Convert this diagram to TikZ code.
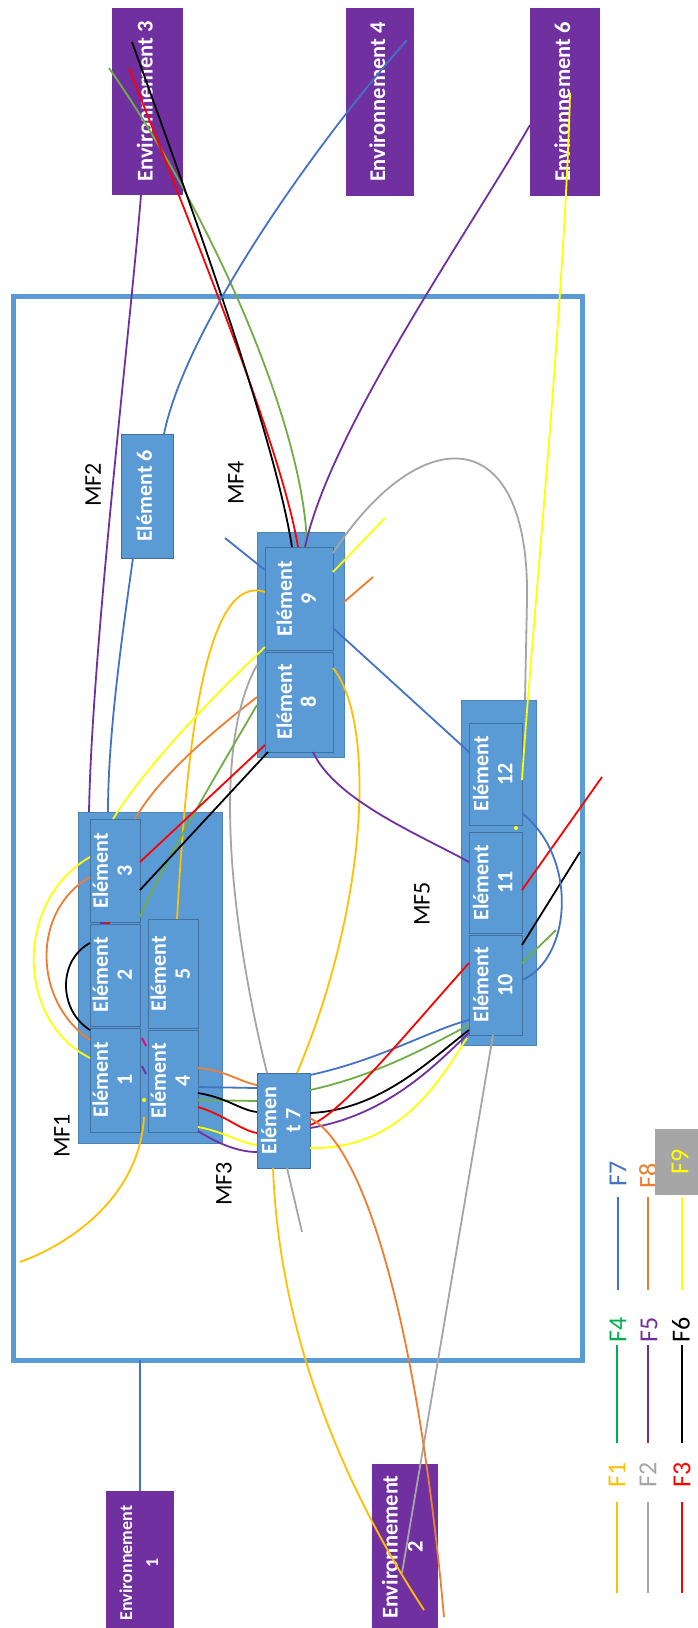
\documentclass[tikz,border=0pt]{standalone}
\usepackage{fontspec}
\setmainfont{Carlito}
\usepackage{graphicx}
\usetikzlibrary{calc}
\definecolor{boxblue}{HTML}{5B9BD5}
\definecolor{boxedge}{HTML}{41719C}
\definecolor{envpurple}{HTML}{7030A0}
\definecolor{cF1}{HTML}{FFC000}
\definecolor{cF2}{HTML}{A5A5A5}
\definecolor{cF3}{HTML}{FF0000}
\definecolor{cF4}{HTML}{70AD47}
\definecolor{cF4t}{HTML}{00B050}
\definecolor{cF5}{HTML}{7030A0}
\definecolor{cF6}{HTML}{000000}
\definecolor{cF7}{HTML}{4472C4}
\definecolor{cF8}{HTML}{ED7D31}
\definecolor{cF9}{HTML}{FFFF00}
\definecolor{legbox}{HTML}{A6A6A6}
\newcommand\rottxt[1]{\rotatebox{90}{\begin{tabular}{@{}c@{}}#1\end{tabular}}}
\begin{document}
\begin{tikzpicture}[x=1pt,y=-1pt,
  every node/.style={inner sep=0pt,outer sep=0pt},
  envbox/.style={fill=envpurple,text=white,font=\bfseries\fontsize{22.5}{25}\selectfont},
  outerbox/.style={fill=boxblue,draw=boxblue!85!black,line width=0.8pt},
  elbox/.style={fill=boxblue,draw=boxedge,line width=0.8pt,text=white,font=\bfseries\fontsize{22}{24}\selectfont},
  mflabel/.style={rotate=90,font=\fontsize{24}{26}\selectfont},
  legtext/.style={rotate=90,font=\fontsize{26}{28}\selectfont},
  conn/.style={line width=1.8pt},
  legline/.style={line width=2.2pt}]
\useasboundingbox (0,0) rectangle (697,1628);
\fill[white] (0,0) rectangle (697,1628);

% system boundary
\node[draw=boxblue,line width=5pt,minimum width=569pt,minimum height=1064pt] (sys) at (297.5,828) {};

% environments
\node[envbox,minimum width=71pt,minimum height=187pt] (env3) at (147.5,101.5) {\rottxt{Environnement 3}};
\node[envbox,minimum width=68pt,minimum height=188pt] (env4) at (380,102) {\rottxt{Environnement 4}};
\node[envbox,minimum width=70pt,minimum height=188pt] (env6) at (565,102) {\rottxt{Environnement 6}};
\node[envbox,minimum width=68pt,minimum height=144pt,font=\bfseries\fontsize{18}{26}\selectfont] (env1) at (140,1563) {\rottxt{Environnement\\1}};
\node[envbox,minimum width=66pt,minimum height=166pt] (env2) at (405,1547) {\rottxt{Environnement\\2}};

% MF groups
\node[outerbox,minimum width=144pt,minimum height=331pt] (mf1) at (150,977.5) {};
\node[outerbox,minimum width=87pt,minimum height=225pt] (mf4) at (300.5,644.5) {};
\node[outerbox,minimum width=75pt,minimum height=345pt] (mf5) at (498.5,872.5) {};

% elements
\node[elbox,minimum width=50pt,minimum height=103pt] (e3) at (115,870.5) {\rottxt{Elément\\3}};
\node[elbox,minimum width=50pt,minimum height=102pt] (e2) at (115,975) {\rottxt{Elément\\2}};
\node[elbox,minimum width=50pt,minimum height=104pt] (e1) at (115,1080) {\rottxt{Elément\\1}};
\node[elbox,minimum width=50pt,minimum height=109pt] (e5) at (173,973.5) {\rottxt{Elément\\5}};
\node[elbox,minimum width=50pt,minimum height=102pt] (e4) at (173,1081) {\rottxt{Elément\\4}};
\node[elbox,minimum width=52pt,minimum height=124pt] (e6) at (147,496) {\rottxt{Elément 6}};
\node[elbox,minimum width=68pt,minimum height=103pt] (e9) at (299,598.5) {\rottxt{Elément\\9}};
\node[elbox,minimum width=68pt,minimum height=100pt] (e8) at (299,702) {\rottxt{Elément\\8}};
\node[elbox,minimum width=53pt,minimum height=95pt] (e7) at (283.5,1120.5) {\rottxt{Elémen\\t 7}};
\node[elbox,minimum width=53pt,minimum height=102pt] (e12) at (495.5,774) {\rottxt{Elément\\12}};
\node[elbox,minimum width=53pt,minimum height=101pt] (e11) at (495.5,882.5) {\rottxt{Elément\\11}};
\node[elbox,minimum width=53pt,minimum height=100pt] (e10) at (495.5,985) {\rottxt{Elément\\10}};

% labels
\node[mflabel] (lmf1) at (62,1136) {MF1};
\node[mflabel] (lmf2) at (93,485) {MF2};
\node[mflabel] (lmf3) at (224,1184) {MF3};
\node[mflabel] (lmf4) at (236,483) {MF4};
\node[mflabel] (lmf5) at (422,904) {MF5};

% connectors from Environnement 3
\draw[conn,cF5] ($(env3.north west)+(29,187)$) .. controls (130,330) and (92,650) .. ($(mf1.north west)+(11,0)$);
\draw[conn,cF4] ($(env3.north west)+(-3,60)$) .. controls (215,220) and (305,430) .. ($(e9.north west)+(42,0)$);
\draw[conn,cF3] ($(env3.north west)+(17,60)$) .. controls (200,250) and (282,450) .. ($(e9.north west)+(33,0)$);
\draw[conn,cF6] ($(env3.north west)+(20,34)$) .. controls (200,230) and (275,440) .. ($(e9.north west)+(27,0)$);
% Element 9 / 6 to the top
\draw[conn,cF5] ($(e9.north west)+(40,0)$) .. controls (330,430) and (470,230) .. ($(env6.north west)+(0,117)$);
\draw[conn,cF7] ($(e6.north west)+(43,0)$) .. controls (185,330) and (310,150) .. ($(env4.north west)+(61,32)$);
\draw[conn,cF7] ($(e6.north west)+(12,124)$) .. controls (120,650) and (108,740) .. ($(mf1.north west)+(30,0)$);
\draw[conn,cF9] ($(env6.north west)+(40,85)$) .. controls (565,300) and (530,650) .. ($(e12.north west)+(53,57)$);
\draw[conn,cF2] ($(e9.north west)+(68,6)$) .. controls (420,420) and (530,420) .. (527,600) -- ($(mf5.north west)+(64,0)$);
\coordinate (y9) at (385,518);
\draw[conn,cF9] ($(e9.north west)+(68,25)$) -- (y9);
\coordinate (o9) at (373,577);
\draw[conn,cF8] ($(mf4.north west)+(87,70)$) -- (o9);
\coordinate (b9) at (225,538);
\draw[conn,cF7] (b9) -- ($(e9.north west)+(0,23)$);
\draw[conn,cF7] ($(e9.north west)+(68,81)$) -- ($(e12.north west)+(0,29)$);
\draw[conn,cF1] ($(e9.north west)+(0,45)$) .. controls (200,570) and (185,780) .. ($(e5.north west)+(29,0)$);
\draw[conn,cF9] ($(e9.north west)+(0,100)$) .. controls (220,690) and (150,760) .. ($(e3.north west)+(23,0)$);
\draw[conn,cF8] ($(mf4.north west)+(0,165)$) .. controls (215,730) and (160,775) .. ($(e3.north west)+(45,0)$);
\draw[conn,cF2] ($(mf4.north west)+(0,133)$) .. controls (215,740) and (225,900) .. ($(e7.north west)+(10,0)$);
\draw[conn,cF4] ($(mf4.north west)+(0,173)$) .. controls (225,760) and (165,860) .. ($(e3.north west)+(50,98)$);
\draw[conn,cF3] ($(e8.north west)+(0,93)$) -- ($(e3.north west)+(50,43)$);
\draw[conn,cF6] ($(e8.north west)+(3,100)$) -- ($(e3.north west)+(50,71)$);
\draw[conn,cF1] ($(e8.north west)+(68,16)$) .. controls (375,720) and (370,900) .. ($(e7.north west)+(40,0)$);
\draw[conn,cF5] ($(e8.north west)+(48,100)$) .. controls (335,800) and (420,835) .. ($(e11.north west)+(0,30)$);
% loops on MF1
\draw[conn,cF9] ($(e3.north west)+(0,38)$) .. controls (15,900) and (15,1020) .. ($(e1.north west)+(0,30)$);
\draw[conn,cF8] ($(e3.north west)+(0,58)$) .. controls (32,910) and (32,1000) .. ($(e1.north west)+(0,12)$);
\draw[conn,cF6] ($(e2.north west)+(0,19)$) .. controls (58,960) and (58,1010) .. ($(e1.north west)+(0,2)$);
\coordinate (f1free) at (20,1262);
\draw[conn,cF1] ($(mf1.north west)+(66,305)$) .. controls (140,1190) and (80,1240) .. (f1free);
% Element 4 -> Element 7
\draw[conn,cF8] ($(e4.north west)+(50,38)$) .. controls (225,1070) and (240,1082) .. ($(e7.north west)+(0,12)$);
\draw[conn,cF7] ($(e4.north west)+(50,57)$) -- ($(e7.north west)+(0,15)$);
\draw[conn,cF4] ($(e4.north west)+(50,70)$) -- ($(e7.north west)+(0,28)$);
\draw[conn,cF6] ($(e4.north west)+(50,63)$) .. controls (228,1098) and (240,1110) .. ($(e7.north west)+(0,39)$);
\draw[conn,cF3] ($(e4.north west)+(50,77)$) .. controls (225,1115) and (240,1130) .. ($(e7.north west)+(0,60)$);
\draw[conn,cF9] ($(e4.north west)+(50,97)$) .. controls (225,1132) and (240,1143) .. ($(e7.north west)+(0,72)$);
\draw[conn,cF5] ($(e4.north west)+(50,101)$) .. controls (220,1145) and (240,1152) .. ($(e7.north west)+(0,79)$);
% Element 7 -> Element 10
\draw[conn,cF7] ($(e7.north west)+(53,2)$) .. controls (380,1060) and (430,1030) .. ($(e10.north west)+(0,85)$);
\draw[conn,cF4] ($(e7.north west)+(53,17)$) .. controls (380,1075) and (440,1040) .. ($(e10.north west)+(0,90)$);
\draw[conn,cF6] ($(e7.north west)+(53,40)$) .. controls (380,1110) and (430,1060) .. ($(e10.north west)+(0,95)$);
\draw[conn,cF5] ($(e7.north west)+(53,55)$) .. controls (390,1115) and (440,1060) .. ($(e10.north west)+(0,98)$);
\draw[conn,cF3] ($(e7.north west)+(53,52)$) .. controls (340,1115) and (400,1040) .. ($(e10.north west)+(0,28)$);
\draw[conn,cF9] ($(e7.north west)+(53,75)$) .. controls (400,1150) and (440,1080) .. ($(mf5.north west)+(6,338)$);
% towards the bottom environments
\draw[conn,cF2] ($(e10.north west)+(24,100)$) -- ($(env2.north west)+(30,109)$);
\coordinate (g7) at (302,1232);
\draw[conn,cF2] ($(e7.north west)+(30,95)$) -- (g7);
\draw[conn,cF1] ($(e7.north west)+(16,95)$) .. controls (278,1300) and (320,1450) .. ($(env2.north west)+(52,146)$);
\draw[conn,cF8] ($(e7.north west)+(53,45)$) .. controls (370,1150) and (420,1350) .. ($(env2.north west)+(72,153)$);
\draw[conn,cF7] ($(sys.north west)+(127,1064)$) -- ($(env1.north west)+(34,0)$);
% MF5 right side
\coordinate (r11) at (602,777);
\draw[conn,cF3] ($(e11.north west)+(53,58)$) -- (r11);
\coordinate (k10) at (580,852);
\draw[conn,cF6] ($(e10.north west)+(53,10)$) -- (k10);
\coordinate (g10) at (556,930);
\draw[conn,cF4] ($(e10.north west)+(53,28)$) -- (g10);
\draw[conn,cF7] ($(e12.north west)+(53,90)$) .. controls (580,860) and (570,960) .. ($(e10.north west)+(53,45)$);
% small marks
\fill[cF9] (144,1100) circle (2);
\fill[cF9] (516,828) circle (2);
\draw[conn,cF5] (100,923) -- (106,923);
\draw[conn,cF3] (106,923) -- (110,923);
\draw[conn,magenta] (142,1038) -- (146,1046);
\draw[conn,cF5] (142,1066) -- (146,1074);

% legend
\node[legtext,text=cF7] (lf7) at (618,1174) {F7};
\draw[legline,cF7] (618,1197) -- (618,1290);
\node[legtext,text=cF8] (lf8) at (648,1176) {F8};
\draw[legline,cF8] (648,1197) -- (648,1290);
\node[fill=legbox,minimum width=50pt,minimum height=66pt] (lf9) at (680,1162) {\rotatebox{90}{\fontsize{26}{28}\selectfont\color{cF9}F9}};
\draw[legline,cF9] (682,1197) -- (682,1290);
\node[legtext,text=cF4t] (lf4) at (618,1330) {F4};
\draw[legline,cF4t] (617,1345) -- (617,1443);
\node[legtext,text=cF5] (lf5) at (649,1330) {F5};
\draw[legline,cF5] (648,1345) -- (648,1443);
\node[legtext,text=cF6] (lf6) at (681,1330) {F6};
\draw[legline,cF6] (682,1345) -- (682,1443);
\node[legtext,text=cF1] (lf1) at (617,1475) {F1};
\draw[legline,cF1] (617,1502) -- (617,1593);
\node[legtext,text=cF2] (lf2) at (648,1475) {F2};
\draw[legline,cF2] (648,1502) -- (648,1593);
\node[legtext,text=cF3] (lf3) at (682,1475) {F3};
\draw[legline,cF3] (682,1502) -- (682,1593);
\end{tikzpicture}
\end{document}
